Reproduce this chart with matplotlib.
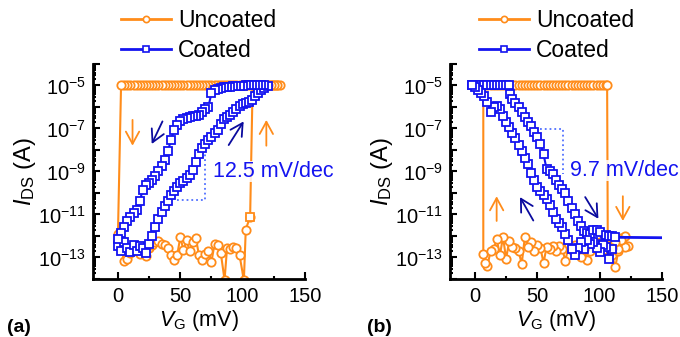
import numpy as np
import matplotlib
matplotlib.use('Agg')
import matplotlib.pyplot as plt
from matplotlib.lines import Line2D
from matplotlib.ticker import FixedLocator, FuncFormatter, LogLocator, NullFormatter

plt.rcParams['font.family'] = ['Liberation Sans', 'DejaVu Sans']
plt.rcParams['mathtext.fontset'] = 'custom'
plt.rcParams['mathtext.rm'] = 'Liberation Sans'
plt.rcParams['mathtext.it'] = 'Liberation Sans:italic'
plt.rcParams['mathtext.bf'] = 'Liberation Sans:bold'

ORANGE = '#FF8C1A'
BLUE = '#1414F0'
NAVY = '#0A0A9E'
GUIDE = '#5070FF'

##############################
# Data (gate voltage in mV, log10 of drain current in A)

# (a) uncoated: low sweep, jump up, saturated top row, jump down
unc_a_v = [0, 2.5, 5, 7.5, 10, 12.5, 15, 17.5, 20, 22.5, 25, 27.5, 30, 32.5, 35, 37.5,
           40, 42.5, 45, 47.5, 50, 52.5, 55, 57.5, 60, 62.5, 65, 67.5, 70, 72.5, 75,
           77.5, 80, 82.5, 85.5, 87.5, 90, 92.5, 95, 97.5, 101, 102.5, 106, 108,
           110, 112.5, 115, 117.5, 120, 122.5, 125, 127.5, 130,
           127.5, 125, 122.5, 120, 117.5, 115, 112.5, 110, 107.5, 105, 102.5, 100,
           97.5, 95, 92.5, 90, 87.5, 85, 82.5, 80, 77.5, 75, 72.5, 70, 67.5, 65,
           62.5, 60, 57.5, 55, 52.5, 50, 47.5, 45, 42.5, 40, 37.5, 35, 32.5, 30,
           27.5, 25, 22.5, 20, 17.5, 15, 12.5, 10, 7.5, 5, 2.5, 0]
unc_a_log = [-12.2, -12.55, -13.15, -13.05, -12.8, -12.45, -12.7, -12.85, -12.6, -12.95,
             -12.55, -12.4, -12.3, -12.25, -12.35, -12.4, -12.55, -12.9, -13.1, -12.9,
             -12.05, -12.65, -12.2, -12.7, -12.3, -12.1, -12.9, -13.1, -12.85, -12.7,
             -13.2, -12.35, -12.4, -12.8, -14.05, -12.55, -12.6, -12.5, -12.55, -12.9,
             -14.05, -11.7, -11.1, -5.0,
             -5.0, -5.0, -5.0, -5.0, -5.0, -5.0, -5.0, -5.0, -5.0,
             -5.0, -5.0, -5.0, -5.0, -5.0, -5.0, -5.0, -5.0, -5.0, -5.0, -5.0, -5.0,
             -5.0, -5.0, -5.0, -5.0, -5.0, -5.0, -5.0, -5.0, -5.0, -5.0, -5.0, -5.0,
             -5.0, -5.0, -5.0, -5.0, -5.0, -5.0, -5.0, -5.0, -5.0, -5.0, -5.0, -5.0,
             -5.0, -5.0, -5.0, -5.0, -5.0, -5.0, -5.0, -5.0, -5.0, -5.0, -5.0, -5.0,
             -5.0, -5.0, -5.0, -11.9]
unc_a_sq_v = [106]
unc_a_sq_log = [-11.1]

# (a) coated: forward 0 -> 120, backward 117.5 -> 0
cot_a_v = [0, 2.5, 5, 7.5, 10, 12.5, 15, 17.5, 20, 22.5, 25, 27.5, 30, 32.5, 35, 37.5,
           40, 42.5, 45, 47.5, 50, 52.5, 55, 57.5, 60, 62.5, 65, 67.5, 70, 72.5, 75,
           77.5, 80, 82.5, 85, 87.5, 90, 92.5, 95, 97.5, 100, 102.5, 105, 107.5, 110,
           112.5, 115, 117.5, 120,
           117.5, 115, 112.5, 110, 107.5, 105, 102.5, 100, 97.5, 95, 92.5, 90, 87.5,
           85, 82.5, 80, 77.5, 75, 72.5, 70, 67.5, 65, 62.5, 60, 57.5, 55, 52.5, 50,
           47.5, 45, 42.5, 40, 37.5, 35, 32.5, 30, 27.5, 25, 22.5, 20, 17.5, 15, 12.5,
           10, 7.5, 5, 2.5, 0]
cot_a_log = [-12.45, -12.7, -12.3, -12.55, -12.75, -12.4, -12.7, -12.45, -12.55, -12.8,
             -12.35, -12.0, -11.6, -11.2, -10.9, -10.6, -10.35, -10.1, -9.9, -9.7,
             -9.55, -9.45, -9.3, -9.15, -8.95, -8.55, -8.2, -7.9, -7.7, -7.52, -7.38,
             -7.22, -7.05, -6.8, -6.58, -6.45, -6.35, -6.25, -6.08, -5.95, -5.88,
             -5.82, -5.75, -5.66, -5.5, -5.35, -5.22, -5.1, -5.02,
             -5.0, -5.0, -5.0, -5.0, -5.0, -5.0, -5.0, -5.02, -5.02, -5.03, -5.04,
             -5.05, -5.06, -5.08, -5.1, -5.15, -5.2, -5.35, -6.0, -6.1, -6.25, -6.35,
             -6.4, -6.43, -6.45, -6.5, -6.55, -6.65, -6.85, -7.05, -7.55, -8.05, -8.45,
             -8.75, -9.0, -9.2, -9.4, -9.52, -9.62, -9.85, -10.35, -10.8, -10.95,
             -11.1, -11.3, -11.6, -11.85, -12.15]

# (b) uncoated: jump up at left, saturated top row, jump down at right, noise
unc_b_v = [6.7, 6.7, 7.5, 10, 12.5, 15, 17.5, 20, 22.5, 25, 27.5, 30, 32.5, 35, 37.5, 40,
           42.5, 45, 47.5, 50, 52.5, 55, 57.5, 60, 62.5, 65, 67.5, 70, 72.5, 75, 77.5,
           80, 82.5, 85, 87.5, 90, 92.5, 95, 97.5, 100, 102.5, 105, 106, 106.5,
           108, 110, 112.5, 115, 117.5, 120, 122.5,
           120, 117.5, 115, 112.5, 110, 107.5, 105, 102.5, 100, 97.5, 95, 92.5, 90,
           87.5, 85, 82.5, 80, 77.5, 75, 72.5, 70, 67.5, 65, 62.5, 60, 57.5, 55, 52.5,
           50, 47.5, 45, 42.5, 40, 37.5, 35, 32.5, 30, 27.5, 25, 22.5, 20, 17.5, 15,
           12.5, 10, 8]
unc_b_log = [-12.85, -5.0, -5.0, -5.0, -5.0, -5.0, -5.0, -5.0, -5.0, -5.0, -5.0, -5.0,
             -5.0, -5.0, -5.0, -5.0, -5.0, -5.0, -5.0, -5.0, -5.0, -5.0, -5.0, -5.0,
             -5.0, -5.0, -5.0, -5.0, -5.0, -5.0, -5.0, -5.0, -5.0, -5.0, -5.0, -5.0,
             -5.0, -5.0, -5.0, -5.0, -5.0, -5.0, -5.0, -11.95,
             -12.45, -12.9, -13.45, -12.7, -12.1, -12.0, -12.45,
             -12.5, -12.2, -12.6, -12.3, -12.55, -12.8, -12.4, -12.65, -12.3, -12.5,
             -12.45, -12.7, -13.1, -12.6, -13.0, -12.55, -12.4, -12.65, -12.5, -13.15,
             -12.6, -12.45, -12.7, -12.45, -12.6, -12.5, -13.25, -12.55, -12.4, -12.7,
             -12.3, -12.5, -12.05, -13.3, -12.7, -12.55, -12.5, -12.25, -13.05, -12.05,
             -12.9, -12.15, -12.6, -12.7, -13.4, -13.25]

# (b) coated forward sweep
cot_b_fwd_v = [-2.5, 0, 2.5, 5, 7.5, 10, 12.5, 15, 17.5, 20, 22.5, 25, 27.5, 28.5, 30,
               32.5, 35, 37.5, 40, 42.5, 45, 47.5, 50, 52.5, 55, 57.5, 60, 62.5, 65,
               67.5, 70, 72.5, 75, 77.5, 80, 82.5, 85, 87.5, 90, 92.5, 95, 97.5, 100,
               102.5, 105, 107.5, 110, 112.5]
cot_b_fwd_log = [-5.0, -5.0, -5.0, -5.0, -5.0, -5.0, -5.0, -5.0, -5.0, -5.0, -5.0, -5.0,
                 -5.0, -5.4, -5.65, -5.82, -6.02, -6.22, -6.45, -6.68, -6.9, -7.15, -7.4,
                 -7.7, -8.2, -8.9, -9.0, -9.12, -9.4, -9.62, -9.82, -10.02, -10.35, -10.7,
                 -11.0, -11.3, -11.55, -11.75, -11.85, -11.9, -11.7, -11.7, -11.8,
                 -12.35, -11.95, -11.98, -11.98, -12.05]
cot_b_tail_v = [112.5, 150]
cot_b_tail_log = [-12.06, -12.08]

# (b) coated backward sweep
cot_b_bwd_v = [110, 107.5, 105, 102.5, 100, 97.5, 95, 92.5, 90, 87.5, 85, 82.5, 80, 77.5,
               75, 72.5, 70, 67.5, 65, 62.5, 60, 57.5, 55, 52.5, 50, 47.5, 45, 42.5, 40,
               37.5, 35, 32.5, 30, 27.5, 25, 22.5, 20, 17.5, 15, 12.5, 10, 7.5, 5, 2.5,
               0, -2.5]
cot_b_bwd_log = [-12.6, -13.05, -12.5, -12.4, -12.75, -12.55, -12.3, -12.35, -12.2, -12.6,
                 -12.3, -12.55, -12.9, -12.6, -12.2, -11.9, -11.6, -11.4, -11.2, -10.9,
                 -10.55, -10.3, -10.1, -9.9, -9.7, -9.4, -9.05, -8.65, -8.35, -8.05,
                 -7.75, -7.45, -7.2, -6.95, -6.7, -6.4, -6.1, -5.95, -6.0, -6.25, -5.75,
                 -5.5, -5.35, -5.2, -5.08, -5.0]

# slope guides and sweep arrows (tail, head)
slope_a_v = [47.6, 70.2, 70.2]
slope_a_log = [-10.34, -10.34, -8.2]
slope_b_v = [52.2, 70.9, 70.9]
slope_b_log = [-7.03, -7.03, -9.1]
arrows_a = [((11.7, -6.6), (11.7, -7.8), ORANGE), ((119, -7.8), (119, -6.6), ORANGE),
            ((35.7, -6.67), (27.1, -7.72), NAVY), ((88.8, -7.77), (100.8, -6.67), NAVY)]
arrows_b = [((17.4, -11.3), (17.4, -10.15), ORANGE), ((118.6, -10.15), (118.6, -11.3), ORANGE),
            ((46.8, -11.28), (36.1, -10.19), NAVY), ((88.4, -10.19), (99, -11.2), NAVY)]


def I(logs):
    return 10.0 ** np.asarray(logs)


def ytick_fmt(v, pos):
    e = int(round(np.log10(v)))
    if e in (-13, -11, -9, -7, -5):
        return r'$10^{%d}$' % e
    return ''


def style_axes(ax):
    ax.set_yscale('log')
    ax.set_xlim(-20, 150)
    ax.set_ylim(1e-14, 1e-4)
    for s in ['top', 'right']:
        ax.spines[s].set_visible(False)
    for s in ['left', 'bottom']:
        ax.spines[s].set_linewidth(2)
    ax.xaxis.set_major_locator(FixedLocator([0, 50, 100, 150]))
    ax.xaxis.set_minor_locator(FixedLocator([25, 75, 125]))
    ax.yaxis.set_major_locator(FixedLocator([10.0 ** k for k in range(-14, -3)]))
    ax.yaxis.set_major_formatter(FuncFormatter(ytick_fmt))
    ax.yaxis.set_minor_locator(LogLocator(base=10, subs=np.arange(2, 10), numticks=50))
    ax.yaxis.set_minor_formatter(NullFormatter())
    ax.tick_params(which='both', direction='in', width=1.5, labelsize=14.5)
    ax.tick_params(which='major', length=5)
    ax.tick_params(which='minor', length=2.5)
    ax.tick_params(axis='x', pad=6)
    ax.tick_params(axis='y', pad=5)
    ax.set_xlabel(r'$V_{\rm G}$ (mV)', fontsize=15.5, labelpad=1)
    ax.set_ylabel(r'$I_{\rm DS}$ (A)', fontsize=17, labelpad=0)


def draw_series(ax, v, logs, color, marker, z):
    ax.plot(v, I(logs), '-', color=color, lw=1.5, marker=marker, ms=6,
            mfc='white', mec=color, mew=1.3, zorder=z)


fig = plt.figure(figsize=(6.8, 3.37), dpi=100)
axA = fig.add_axes([93 / 680, 1 - 279 / 337, 212 / 680, 215 / 337])
axB = fig.add_axes([450 / 680, 1 - 279 / 337, 212 / 680, 215 / 337])

###################
# Panel (a)
draw_series(axA, unc_a_v, unc_a_log, ORANGE, 'o', 2)
axA.plot(unc_a_sq_v, I(unc_a_sq_log), 's', ms=6, mfc='white', mec=ORANGE, mew=1.3, zorder=2.5)
draw_series(axA, cot_a_v, cot_a_log, BLUE, 's', 3)
axA.plot(slope_a_v, I(slope_a_log), ':', color=GUIDE, lw=1.3, zorder=2.8)
axA.text(76, 10 ** -9.02, '12.5 mV/dec', color=BLUE, fontsize=15.5, va='center', ha='left',
         clip_on=False, zorder=5,
         bbox=dict(facecolor='white', edgecolor='none', alpha=0.85, pad=0))

###################
# Panel (b)
draw_series(axB, unc_b_v, unc_b_log, ORANGE, 'o', 2)
axB.plot(cot_b_tail_v, I(cot_b_tail_log), '-', color=BLUE, lw=2, zorder=3)
draw_series(axB, cot_b_fwd_v, cot_b_fwd_log, BLUE, 's', 3)
draw_series(axB, cot_b_bwd_v, cot_b_bwd_log, BLUE, 's', 3)
axB.plot(slope_b_v, I(slope_b_log), ':', color=GUIDE, lw=1.3, zorder=2.8)
axB.text(76.3, 10 ** -8.94, '9.7 mV/dec', color=BLUE, fontsize=15.5, va='center', ha='left',
         clip_on=False, zorder=5,
         bbox=dict(facecolor='white', edgecolor='none', alpha=0.85, pad=0))

for ax, arrows in ((axA, arrows_a), (axB, arrows_b)):
    for (x0, l0), (x1, l1), c in arrows:
        ax.annotate('', xy=(x1, 10 ** l1), xytext=(x0, 10 ** l0), zorder=4,
                    arrowprops=dict(arrowstyle='->,head_length=0.55,head_width=0.3',
                                    color=c, lw=1.3, shrinkA=0, shrinkB=0,
                                    mutation_scale=16))
    style_axes(ax)

# Legends
handles = [Line2D([], [], color=ORANGE, lw=2, marker='o', ms=4.5, mfc='white', mec=ORANGE, mew=1.2),
           Line2D([], [], color=BLUE, lw=2, marker='s', ms=4, mfc='white', mec=BLUE, mew=1.2)]
for ax, x0 in ((axA, 121), (axB, 479)):
    ax.legend(handles, ['Uncoated', 'Coated'], loc='upper left',
              bbox_to_anchor=(x0 / 680, 1 - 9 / 337), bbox_transform=fig.transFigure,
              frameon=False, fontsize=16.5, handlelength=2.2, handletextpad=0.3,
              labelspacing=0.3, borderpad=0, borderaxespad=0)

fig.text(7 / 680, 1 - 332 / 337, '(a)', fontweight='bold', fontsize=14, va='baseline')
fig.text(367 / 680, 1 - 332 / 337, '(b)', fontweight='bold', fontsize=14, va='baseline')

fig.savefig('out.png', dpi=100)
